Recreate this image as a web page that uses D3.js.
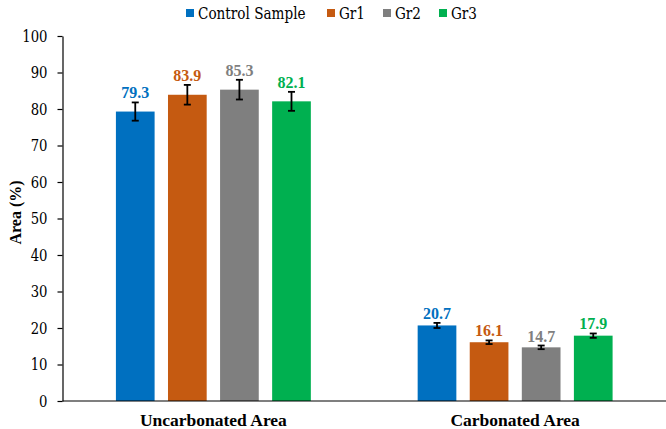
<!DOCTYPE html>
<html><head><meta charset="utf-8">
<script src="https://cdn.jsdelivr.net/npm/d3@7"></script>
<style>body{margin:0;background:#fff}svg{display:block}</style>
</head><body><div id="chart"></div>
<script>
const categories = ["Uncarbonated Area", "Carbonated Area"];
const seriesNames = ["Control Sample", "Gr1", "Gr2", "Gr3"];
const controlValues = [79.3, 20.7];
const gr1Values = [83.9, 16.1];
const gr2Values = [85.3, 14.7];
const gr3Values = [82.1, 17.9];
const controlErr = [2.5, 0.7];
const gr1Err = [2.7, 0.5];
const gr2Err = [2.7, 0.5];
const gr3Err = [2.6, 0.6];
const yTicks = [0, 10, 20, 30, 40, 50, 60, 70, 80, 90, 100];
const colors = ["#0070C0", "#C55A11", "#7F7F7F", "#00B050"];

const values = [controlValues, gr1Values, gr2Values, gr3Values];
const errs = [controlErr, gr1Err, gr2Err, gr3Err];
const FONT = '"Liberation Serif", Tinos, "Times New Roman", serif';
const FONT_REG = '"DejaVu Serif", serif';

// condense the wider regular serif face horizontally to Times-like proportions
function condense(sel, k) {
  sel.each(function () {
    const w = this.getComputedTextLength();
    d3.select(this).attr("textLength", w * k).attr("lengthAdjust", "spacingAndGlyphs");
  });
}

const W = 666, H = 429;
const m = {left: 62.5, right: 0, top: 36, bottom: 28};
const svg = d3.select("#chart").append("svg").attr("width", W).attr("height", H)
  .style("font-family", FONT);

const y = d3.scaleLinear().domain([0, 100]).range([H - m.bottom, m.top]);
const x0 = d3.scaleBand().domain(categories).range([m.left, W - m.right]).paddingInner(0.354).paddingOuter(0.177);
const x1 = d3.scaleBand().domain(seriesNames).range([0, x0.bandwidth()]).paddingInner(0.257).paddingOuter(0);

// y axis
const yAxis = svg.append("g").attr("transform", `translate(${m.left},0)`)
  .call(d3.axisLeft(y).tickValues(yTicks).tickSize(5).tickPadding(10).tickSizeOuter(0));
yAxis.attr("font-family", null);
yAxis.select(".domain").attr("stroke", "#000").attr("stroke-width", 1.2);
yAxis.selectAll(".tick line").attr("stroke", "#000").attr("stroke-width", 1.2);
const tickTexts = yAxis.selectAll(".tick text").attr("font-size", 16.5).attr("fill", "#000").style("font-family", FONT_REG);
condense(tickTexts, 0.8);

// bars
categories.forEach((c, ci) => {
  seriesNames.forEach((s, si) => {
    const v = values[si][ci], e = errs[si][ci];
    const bx = x0(c) + x1(s), bw = x1.bandwidth(), cx = bx + bw / 2;
    svg.append("rect").attr("x", bx).attr("y", y(v)).attr("width", bw)
      .attr("height", y(0) - y(v)).attr("fill", colors[si]);
    const g = svg.append("g").attr("stroke", "#000").attr("stroke-width", 1.8);
    g.append("line").attr("x1", cx).attr("x2", cx).attr("y1", y(v + e)).attr("y2", y(v - e));
    g.append("line").attr("x1", cx - 3.5).attr("x2", cx + 3.5).attr("y1", y(v + e)).attr("y2", y(v + e));
    g.append("line").attr("x1", cx - 3.5).attr("x2", cx + 3.5).attr("y1", y(v - e)).attr("y2", y(v - e));
    svg.append("text").attr("x", cx).attr("y", y(v + e) - 4).attr("text-anchor", "middle")
      .attr("font-size", 16).attr("font-weight", "bold").attr("fill", colors[si]).text(v.toFixed(1));
  });
  svg.append("text").attr("x", x0(c) + x0.bandwidth() / 2).attr("y", 426).attr("text-anchor", "middle")
    .attr("font-size", 17.5).attr("font-weight", "bold").attr("fill", "#000").text(c);
});

// x baseline
svg.append("line").attr("x1", m.left).attr("x2", W).attr("y1", y(0)).attr("y2", y(0))
  .attr("stroke", "#000").attr("stroke-width", 1.2);

// y label
svg.append("text").attr("transform", `translate(21,${(y(0) + y(100)) / 2 - 6}) rotate(-90)`)
  .attr("text-anchor", "middle").attr("font-size", 16).attr("font-weight", "bold").attr("fill", "#000").text("Area (%)");

// legend
const legendX = [186, 327, 383, 439];
const leg = svg.append("g");
seriesNames.forEach((s, i) => {
  leg.append("rect").attr("x", legendX[i]).attr("y", 9).attr("width", 8).attr("height", 8).attr("fill", colors[i]);
  const t = leg.append("text").attr("x", legendX[i] + 12).attr("y", 18.5).attr("font-size", 17)
    .style("font-family", FONT_REG).attr("fill", "#000").text(s);
  condense(t, 0.8);
});
</script></body></html>
